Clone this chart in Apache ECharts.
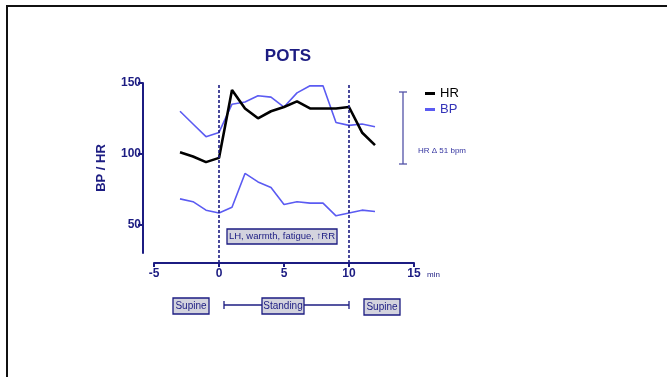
<!DOCTYPE html>
<html>
<head>
<meta charset="utf-8">
<script src="https://cdn.jsdelivr.net/npm/echarts@6/dist/echarts.min.js"></script>
<style>html,body{margin:0;padding:0;background:#fff}#c{width:667px;height:377px}</style>
</head>
<body>
<div id="c"></div>
<script>
var minutes = [-3,-2,-1,0,1,2,3,4,5,6,7,8,9,10,11,12];
var hr     = [101,98,94,97,145,132,125,130,133,137,132,132,132,133,115,106];
var bpSys  = [130,121,112,115,135,136.5,141,140,133,143,148,148,122,120,121,119];
var bpDia  = [68,66,60,58,62,86,80,76,64,66,65,65,56,58,60,59];
var yTicks = [50,100,150];
var phaseLines = [0,10];

var NAVY = '#1c1c82';
var BLUE = '#5b5bf2';
var FONT = 'Liberation Sans, Arial, sans-serif';

function pairs(xs, ys){ return xs.map(function(x,i){return [x, ys[i]];}); }

var chart = echarts.init(document.getElementById('c'), null, {renderer:'canvas'});
var option = {
  animation:false,
  title:{text:'POTS', left:283, top:43, textAlign:'center',
    textStyle:{fontFamily:FONT, fontSize:17, fontWeight:'bold', color:NAVY}},
  legend:{orient:'vertical', left:420, top:84, itemWidth:10, itemHeight:3, itemGap:3,
    icon:'rect', padding:[3,5,3,5],
    textStyle:{fontFamily:FONT, fontSize:13},
    data:[{name:'HR', itemStyle:{color:'#000'}, textStyle:{color:'#000'}},
          {name:'BP', itemStyle:{color:BLUE}, textStyle:{color:'#3434b8'}}]},
  grid:[
    {left:154, right:253, top:83, bottom:114},
    {left:143, right:523, top:83, bottom:124}
  ],
  xAxis:[
    {gridIndex:0, type:'value', min:-5, max:15, interval:5,
      axisLine:{show:true, lineStyle:{color:NAVY, width:2}},
      axisTick:{show:true, length:4, lineStyle:{color:NAVY, width:2}},
      axisLabel:{fontFamily:FONT, fontSize:12, fontWeight:'bold', color:NAVY, margin:5},
      splitLine:{show:false}},
    {gridIndex:1, type:'value', min:0, max:1, show:false}
  ],
  yAxis:[
    {gridIndex:0, type:'value', min:22.6, max:150, show:false, splitLine:{show:false}},
    {gridIndex:1, type:'value', min:30, max:150,
      name:'BP / HR', nameLocation:'middle', nameGap:35,
      nameTextStyle:{fontFamily:FONT, fontSize:13, fontWeight:'bold', color:NAVY},
      axisLine:{show:true, lineStyle:{color:NAVY, width:2}},
      axisTick:{show:true, length:5, customValues:yTicks, lineStyle:{color:NAVY, width:2}},
      axisLabel:{customValues:yTicks, fontFamily:FONT, fontSize:12, fontWeight:'bold', color:NAVY, margin:2},
      splitLine:{show:false}}
  ],
  series:[
    {name:'BP', type:'line', xAxisIndex:0, yAxisIndex:0, data:pairs(minutes,bpSys),
      symbol:'none', lineStyle:{color:BLUE, width:1.6}, itemStyle:{color:BLUE},
      markLine:{silent:true, symbol:'none', label:{show:false},
        lineStyle:{color:NAVY, width:1.6, type:[3,2]},
        data:phaseLines.map(function(v){return {xAxis:v};})}},
    {name:'BP', type:'line', xAxisIndex:0, yAxisIndex:0, data:pairs(minutes,bpDia),
      symbol:'none', lineStyle:{color:BLUE, width:1.6}, itemStyle:{color:BLUE}},
    {name:'HR', type:'line', xAxisIndex:0, yAxisIndex:0, data:pairs(minutes,hr),
      symbol:'none', lineStyle:{color:'#000', width:2.6}, itemStyle:{color:'#000'}, z:3}
  ],
  graphic:[
    {type:'line', shape:{x1:6,y1:6,x2:667,y2:6}, style:{stroke:'#111', lineWidth:2}},
    {type:'line', shape:{x1:7,y1:6,x2:7,y2:377}, style:{stroke:'#111', lineWidth:2}},
    {type:'text', left:427, top:271, style:{text:'min', fontFamily:FONT, fontSize:8, fill:NAVY}},
    // HR delta bracket
    {type:'line', shape:{x1:403,y1:92,x2:403,y2:164}, style:{stroke:'#5252a8', lineWidth:1.3}},
    {type:'line', shape:{x1:399,y1:92,x2:407,y2:92}, style:{stroke:'#5252a8', lineWidth:1.3}},
    {type:'line', shape:{x1:399,y1:164,x2:407,y2:164}, style:{stroke:'#5252a8', lineWidth:1.3}},
    {type:'text', left:418, top:147, style:{text:'HR \u0394 51 bpm', fontFamily:FONT, fontSize:8, fill:'#3434a0'}},
    // symptom box
    {type:'rect', shape:{x:227,y:229,width:110,height:15}, style:{fill:'#d3d3de', stroke:NAVY, lineWidth:1.3}},
    {type:'text', x:282, y:236.5, style:{text:'LH, warmth, fatigue, \u2191RR', fontFamily:FONT, fontSize:9.5, fill:NAVY, align:'center', verticalAlign:'middle'}},
    // phase bar
    {type:'line', shape:{x1:224,y1:305,x2:349,y2:305}, style:{stroke:NAVY, lineWidth:1.3}},
    {type:'line', shape:{x1:224,y1:301,x2:224,y2:309}, style:{stroke:NAVY, lineWidth:1.3}},
    {type:'line', shape:{x1:349,y1:301,x2:349,y2:309}, style:{stroke:NAVY, lineWidth:1.3}},
    {type:'rect', shape:{x:173,y:298,width:36,height:16}, style:{fill:'#d3d3de', stroke:NAVY, lineWidth:1.3}},
    {type:'text', x:191, y:306, style:{text:'Supine', fontFamily:FONT, fontSize:10, fill:NAVY, align:'center', verticalAlign:'middle'}},
    {type:'rect', shape:{x:262,y:298,width:42,height:16}, style:{fill:'#d3d3de', stroke:NAVY, lineWidth:1.3}},
    {type:'text', x:283, y:306, style:{text:'Standing', fontFamily:FONT, fontSize:10, fill:NAVY, align:'center', verticalAlign:'middle'}},
    {type:'rect', shape:{x:364,y:299,width:36,height:16}, style:{fill:'#d3d3de', stroke:NAVY, lineWidth:1.3}},
    {type:'text', x:382, y:307, style:{text:'Supine', fontFamily:FONT, fontSize:10, fill:NAVY, align:'center', verticalAlign:'middle'}}
  ]
};
chart.setOption(option);
</script>
</body>
</html>
